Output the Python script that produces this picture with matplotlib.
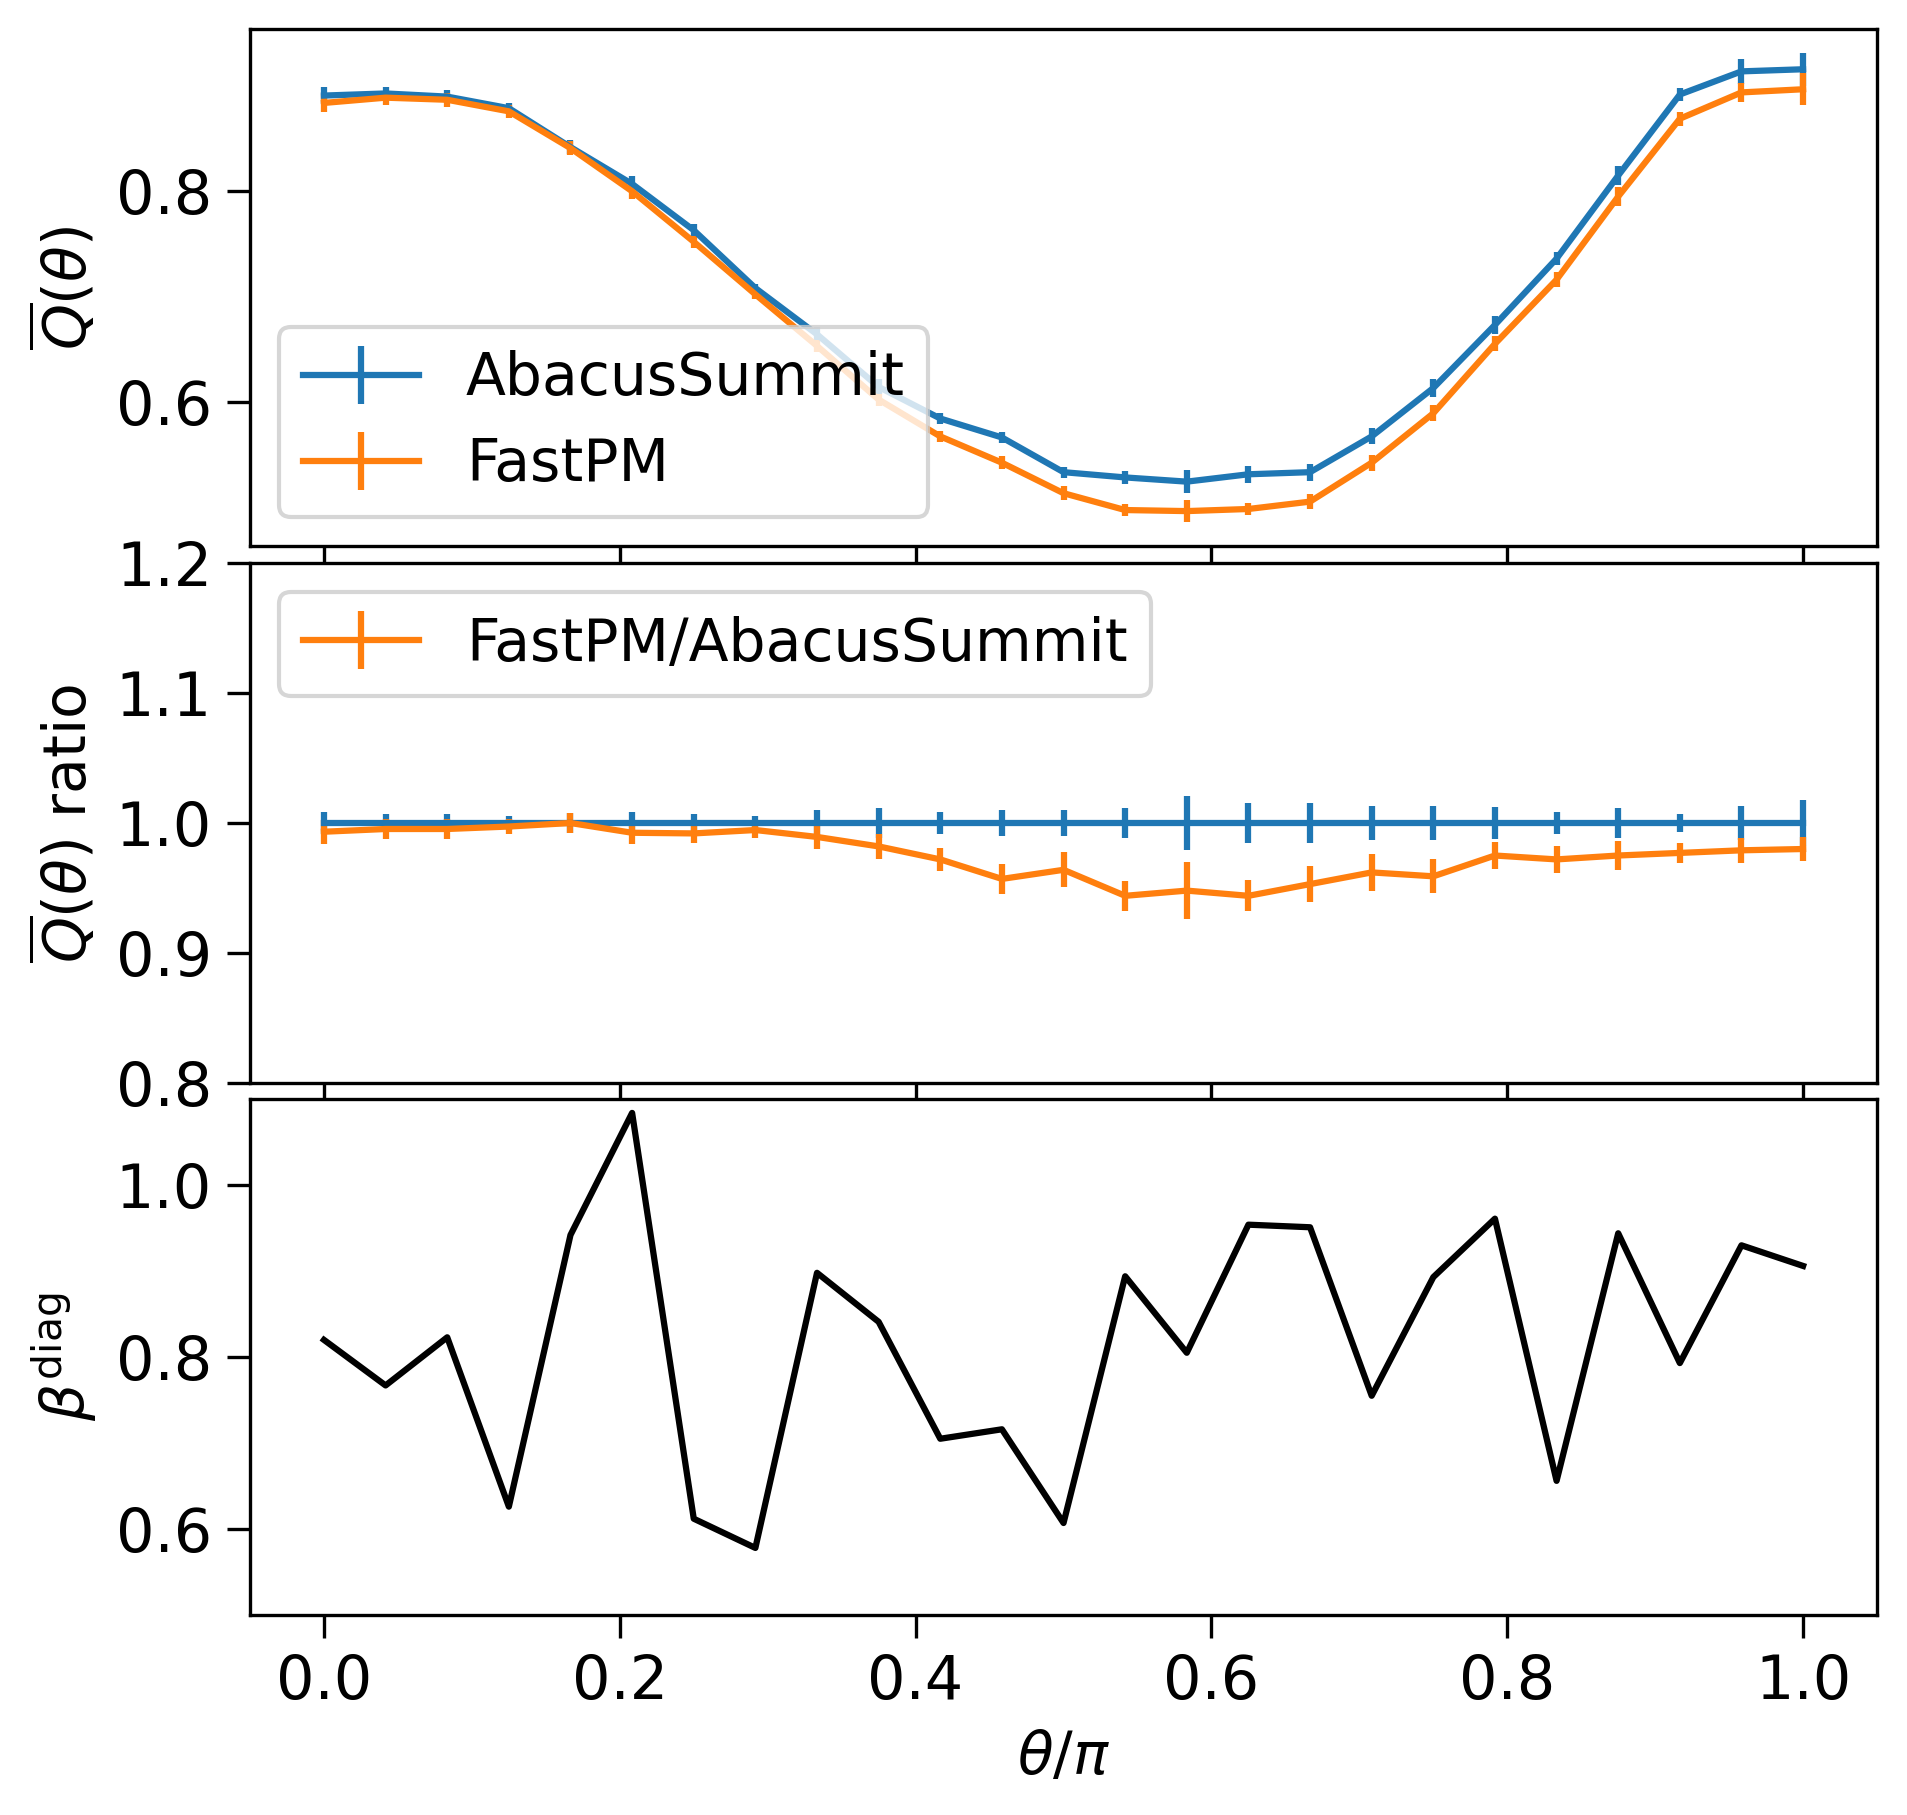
import numpy as np
import matplotlib
matplotlib.use("Agg")
import matplotlib.pyplot as plt

# theta / pi bins
theta = np.linspace(0.0, 1.0, 25)

# mean Q(theta) for the two simulations
q_abacus = [0.891, 0.893, 0.890, 0.879, 0.842, 0.807, 0.763, 0.708, 0.664, 0.614,
            0.584, 0.566, 0.533, 0.528, 0.524, 0.531, 0.533, 0.567, 0.613, 0.673,
            0.736, 0.815, 0.892, 0.914, 0.916]
q_abacus_err = [0.0080, 0.0064, 0.0064, 0.0048, 0.0067, 0.0071, 0.0055, 0.0038, 0.0066, 0.0071,
                0.0051, 0.0056, 0.0053, 0.0061, 0.0108, 0.0081, 0.0082, 0.0076, 0.0082, 0.0085,
                0.0065, 0.0094, 0.0060, 0.0122, 0.0159]
q_fastpm = [0.884, 0.889, 0.887, 0.876, 0.841, 0.800, 0.752, 0.702, 0.653, 0.602,
            0.567, 0.542, 0.513, 0.497, 0.496, 0.498, 0.505, 0.542, 0.589, 0.655,
            0.716, 0.795, 0.869, 0.894, 0.897]
q_fastpm_err = [0.0083, 0.0067, 0.0067, 0.0060, 0.0067, 0.0070, 0.0058, 0.0045, 0.0058, 0.0057,
                0.0050, 0.0062, 0.0069, 0.0057, 0.0108, 0.0060, 0.0071, 0.0076, 0.0077, 0.0070,
                0.0073, 0.0091, 0.0065, 0.0087, 0.0150]

# ratio to AbacusSummit
ratio_abacus = [1.0] * 25
ratio_abacus_err = [0.0088, 0.0072, 0.0072, 0.0054, 0.0080, 0.0088, 0.0072, 0.0054, 0.0099, 0.0115,
                    0.0088, 0.0099, 0.0099, 0.0115, 0.0206, 0.0153, 0.0153, 0.0134, 0.0134, 0.0126,
                    0.0088, 0.0115, 0.0067, 0.0134, 0.0174]
ratio_fastpm = [0.9933, 0.9954, 0.9954, 0.9973, 1.000, 0.9925, 0.992, 0.9946, 0.9893, 0.982,
                0.972, 0.957, 0.964, 0.944, 0.948, 0.944, 0.953, 0.962, 0.959, 0.975,
                0.972, 0.975, 0.977, 0.979, 0.980]
ratio_fastpm_err = [0.0094, 0.0075, 0.0075, 0.0060, 0.0080, 0.0085, 0.0075, 0.0065, 0.0090, 0.0095,
                    0.0088, 0.0115, 0.0134, 0.0115, 0.0217, 0.0120, 0.0140, 0.0140, 0.0130, 0.0107,
                    0.0102, 0.0115, 0.0075, 0.0097, 0.0090]

# diagonal beta
beta_diag = [0.820, 0.767, 0.823, 0.626, 0.942, 1.084, 0.612, 0.578, 0.898, 0.841,
             0.705, 0.716, 0.607, 0.894, 0.805, 0.954, 0.951, 0.755, 0.893, 0.961,
             0.656, 0.944, 0.793, 0.930, 0.906]

plt.rcParams["font.size"] = 14
plt.rcParams["xtick.labelsize"] = 14.5
plt.rcParams["ytick.labelsize"] = 14.5
plt.rcParams["xtick.major.size"] = 5.6
plt.rcParams["ytick.major.size"] = 5.6

fig = plt.figure(figsize=(1907 / 300, 1815 / 300), dpi=300)
left, width = 0.1311, 0.8532
ax1 = fig.add_axes([left, 0.6992, width, 0.2848])
ax2 = fig.add_axes([left, 0.4033, width, 0.2865], sharex=ax1)
ax3 = fig.add_axes([left, 0.1102, width, 0.2842], sharex=ax1)

# Top: Q(theta)
ax1.errorbar(theta, q_abacus, yerr=q_abacus_err, label="AbacusSummit")
ax1.errorbar(theta, q_fastpm, yerr=q_fastpm_err, label="FastPM")
ax1.set_ylabel(r"$\overline{Q}(\theta)$")
ax1.legend(loc="lower left")
ax1.set_yticks([0.6, 0.8])
ax1.tick_params(labelbottom=False)

# Middle: ratio
ax2.errorbar(theta, ratio_abacus, yerr=ratio_abacus_err)
ax2.errorbar(theta, ratio_fastpm, yerr=ratio_fastpm_err, label="FastPM/AbacusSummit")
ax2.set_ylim(0.8, 1.2)
ax2.set_yticks([0.8, 0.9, 1.0, 1.1, 1.2])
ax2.set_ylabel(r"$\overline{Q}(\theta)$ ratio")
ax2.legend(loc="upper left")
ax2.tick_params(labelbottom=False)

# Bottom: beta
ax3.plot(theta, beta_diag, color="k")
ax3.set_ylim(0.5, 1.1)
ax3.set_yticks([0.6, 0.8, 1.0])
ax3.set_ylabel(r"$\beta^{\rm diag}$")
ax3.set_xlabel(r"$\theta/\pi$")
ax3.set_xticks([0.0, 0.2, 0.4, 0.6, 0.8, 1.0])

fig.savefig("out.png", dpi=300)
